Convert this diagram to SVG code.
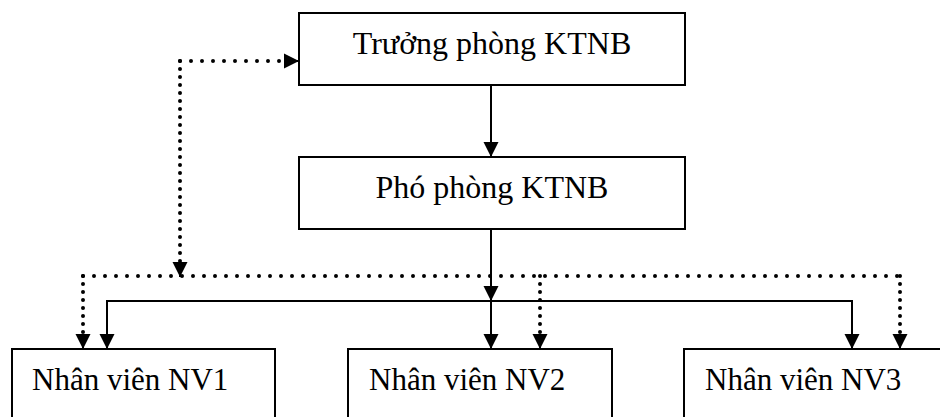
<svg xmlns="http://www.w3.org/2000/svg" width="940" height="417" viewBox="0 0 940 417">
  <style>
    .box { fill: #fff; stroke: #000; stroke-width: 2; }
    .label { font-family: "Liberation Serif", "Times New Roman", serif; font-size: 31px; fill: #000; }
    .head { font-size: 32px; text-anchor: middle; }
    .solid { fill: none; stroke: #000; stroke-width: 2; }
    .dotted-h { fill: none; stroke: #000; stroke-width: 4; stroke-linecap: round; stroke-dasharray: 0 11; }
    .dotted-v { fill: none; stroke: #000; stroke-width: 4; stroke-linecap: round; stroke-dasharray: 0 8; }
  </style>
  <defs>
    <marker id="arrow" markerUnits="userSpaceOnUse" markerWidth="15" markerHeight="15" refX="15" refY="7.5" orient="auto" overflow="visible">
      <path d="M0,0 L15,7.5 L0,15 z" fill="#000"/>
    </marker>
  </defs>

  <rect width="940" height="417" fill="#fff"/>

  <g id="connectors">
    <!-- solid chain of command -->
    <path class="solid" d="M491,85 V157" marker-end="url(#arrow)"/>
    <path class="solid" d="M491,229 V301" marker-end="url(#arrow)"/>
    <path class="solid" d="M491,301 V349" marker-end="url(#arrow)"/>
    <path class="solid" d="M107,349 V301 H852 V349"/>
    <path class="solid" d="M107,330 V349" marker-end="url(#arrow)"/>
    <path class="solid" d="M852,330 V349" marker-end="url(#arrow)"/>

    <!-- dotted reporting lines -->
    <path class="dotted-h" d="M180,61 H290"/>
    <path class="solid" d="M290,61 H299" stroke-width="1" marker-end="url(#arrow)"/>
    <path class="dotted-v" d="M180,61 V268"/>
    <path class="solid" d="M180,268 V277" stroke-width="1" marker-end="url(#arrow)"/>
    <path class="dotted-h" d="M83,276 H900"/>
    <path class="dotted-v" d="M83,276 V340"/>
    <path class="dotted-v" d="M540,276 V340"/>
    <path class="dotted-v" d="M900,276 V340"/>
    <path class="solid" d="M83,340 V349" stroke-width="1" marker-end="url(#arrow)"/>
    <path class="solid" d="M540,340 V349" stroke-width="1" marker-end="url(#arrow)"/>
    <path class="solid" d="M900,340 V349" stroke-width="1" marker-end="url(#arrow)"/>
  </g>

  <g id="truong-phong">
    <rect class="box" x="299" y="13" width="386" height="72"/>
    <text class="label head" x="492" y="54">Trưởng phòng KTNB</text>
  </g>

  <g id="pho-phong">
    <rect class="box" x="299" y="157" width="386" height="72"/>
    <text class="label head" x="492" y="198">Phó phòng KTNB</text>
  </g>

  <g id="nv1">
    <rect class="box" x="12" y="349" width="263" height="80"/>
    <text class="label" x="32" y="390">Nhân viên NV1</text>
  </g>

  <g id="nv2">
    <rect class="box" x="348" y="349" width="264" height="80"/>
    <text class="label" x="369" y="390">Nhân viên NV2</text>
  </g>

  <g id="nv3">
    <rect class="box" x="684" y="349" width="264" height="80"/>
    <text class="label" x="705" y="390">Nhân viên NV3</text>
  </g>
</svg>
